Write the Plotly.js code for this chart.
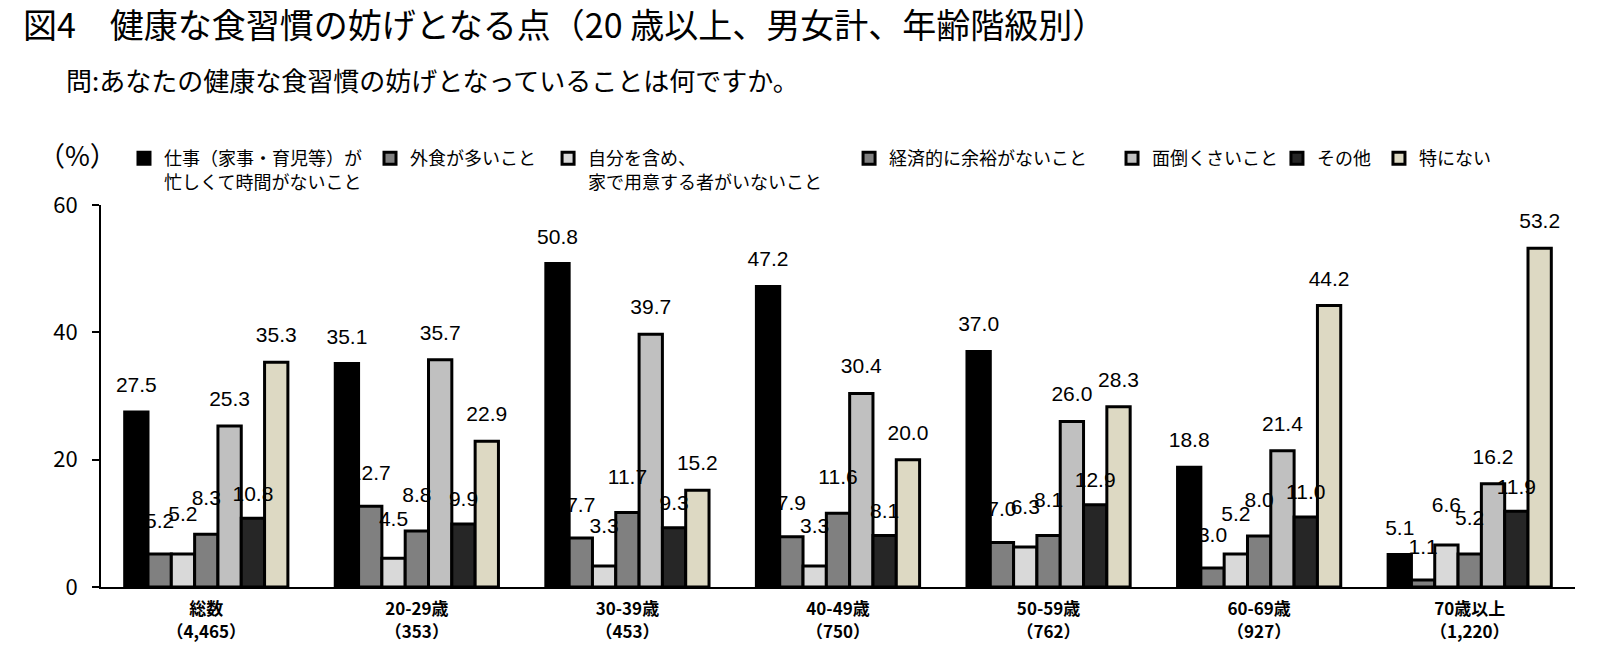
<!DOCTYPE html>
<html><head><meta charset="utf-8">
<script src="https://cdn.plot.ly/plotly-3.0.1.min.js"></script>
<style>html,body{margin:0;padding:0;background:#fff;} #chart{width:1619px;height:655px;}</style>
</head><body><div id="chart"></div>
<script>
const categories = ['総数<br>（4,465）', '20-29歳<br>（353）', '30-39歳<br>（453）', '40-49歳<br>（750）', '50-59歳<br>（762）', '60-69歳<br>（927）', '70歳以上<br>（1,220）'];
const seriesNames = ['仕事（家事・育児等）が<br>忙しくて時間がないこと', '外食が多いこと', '自分を含め、<br>家で用意する者がいないこと', '経済的に余裕がないこと', '面倒くさいこと', 'その他', '特にない'];
const busy       = [27.5, 35.1, 50.8, 47.2, 37.0, 18.8, 5.1];
const eatingOut  = [5.2, 12.7, 7.7, 7.9, 7.0, 3.0, 1.1];
const noOneCooks = [5.2, 4.5, 3.3, 3.3, 6.3, 5.2, 6.6];
const noMoney    = [8.3, 8.8, 11.7, 11.6, 8.1, 8.0, 5.2];
const bothersome = [25.3, 35.7, 39.7, 30.4, 26.0, 21.4, 16.2];
const other      = [10.8, 9.9, 9.3, 8.1, 12.9, 11.0, 11.9];
const nothing    = [35.3, 22.9, 15.2, 20.0, 28.3, 44.2, 53.2];

const seriesValues = [busy, eatingOut, noOneCooks, noMoney, bothersome, other, nothing];
const colors = ['#000000', '#808080', '#d9d9d9', '#808080', '#c0c0c0', '#262626', '#ddd9c3'];
const labelGap = [22, 32, 42, 36, 22, 18, 22];
const legendX = [0.0156, 0.1825, 0.3033, 0.5075, 0.6859, 0.7978, 0.8670];
const legendIds = ['legend', 'legend2', 'legend3', 'legend4', 'legend5', 'legend6', 'legend7'];

const JP = '"Noto Sans CJK JP", "Noto Sans", sans-serif';
const traces = [];
seriesValues.forEach((vals, i) => {
  traces.push({
    type: 'bar', x: categories, y: vals, name: seriesNames[i],
    marker: {color: colors[i], line: {color: '#000000', width: 3}},
    legend: legendIds[i], hoverinfo: 'skip'
  });
});
seriesValues.forEach((vals, i) => {
  traces.push({
    type: 'scatter', mode: 'markers+text', x: categories, y: vals,
    text: vals.map(v => v.toFixed(1)), textposition: 'top center',
    textfont: {family: '"Liberation Sans", Arial, sans-serif', size: 21, color: '#000'},
    marker: {size: labelGap[i], opacity: 0}, showlegend: false, cliponaxis: false, hoverinfo: 'skip'
  });
});

const layout = {
  width: 1619, height: 655,
  margin: {l: 101, r: 44, t: 205, b: 68},
  paper_bgcolor: '#ffffff', plot_bgcolor: '#ffffff',
  barmode: 'group', bargap: 0.225, bargroupgap: 0,
  scattermode: 'group', scattergap: 0.225,
  font: {family: JP, color: '#000'},
  title: {text: '図4　健康な食習慣の妨げとなる点（20 歳以上、男女計、年齢階級別）',
    xref: 'container', yref: 'container', x: 23/1619, xanchor: 'left', y: 1 - 26/655, yanchor: 'middle',
    font: {family: JP, size: 34, color: '#000'}},
  xaxis: {type: 'category', showline: true, linecolor: '#000', linewidth: 2, ticks: '',
    tickfont: {family: JP, size: 17, color: '#000', weight: 'bold'}, ticklabelstandoff: 6,
    showgrid: false, zeroline: false},
  yaxis: {range: [0, 60], tickvals: [0, 20, 40, 60], ticks: 'outside', ticklen: 7, tickwidth: 2, tickcolor: '#000',
    showline: true, linecolor: '#000', linewidth: 2, showgrid: false, zeroline: false,
    tickfont: {family: JP, size: 22, color: '#000'}, ticklabelstandoff: 10},
  annotations: [
    {text: '問:あなたの健康な食習慣の妨げとなっていることは何ですか。', xref: 'paper', yref: 'paper',
     x: (64 - 101) / 1474, y: (587 - 79) / 382, xanchor: 'left', yanchor: 'middle', showarrow: false,
     font: {family: JP, size: 26, color: '#000'}},
    {text: '（%）', xref: 'paper', yref: 'paper', x: (36 - 101) / 1474, y: (587 - 155) / 382,
     xanchor: 'left', yanchor: 'middle', showarrow: false, font: {family: JP, size: 27, color: '#000'}}
  ],
  showlegend: true
};
legendIds.forEach((id, i) => {
  layout[id] = {x: legendX[i], y: (587 - 140) / 382, xanchor: 'left', yanchor: 'top', orientation: 'v',
    bgcolor: 'rgba(0,0,0,0)', borderwidth: 0, valign: 'top', font: {family: JP, size: 18, color: '#000'}};
});

Plotly.newPlot('chart', traces, layout, {staticPlot: true, displayModeBar: false});
</script></body></html>
